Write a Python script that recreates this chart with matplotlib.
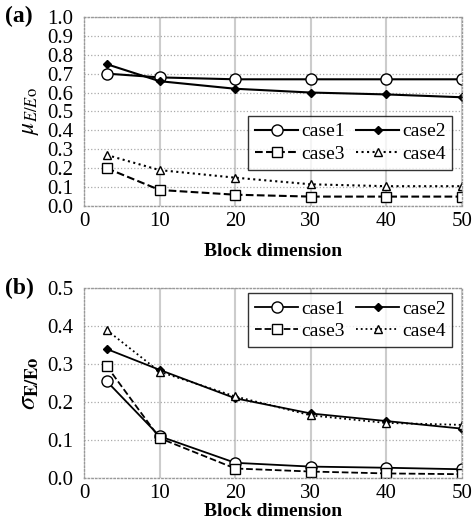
import matplotlib
matplotlib.use("Agg")
import matplotlib.pyplot as plt

plt.rcParams['font.family'] = ['Liberation Serif', 'DejaVu Serif']
plt.rcParams['mathtext.fontset'] = 'stix'

block = [3, 10, 20, 30, 40, 50]

# (a) mean of E/Eo
mu_case1 = [0.70, 0.68, 0.67, 0.67, 0.67, 0.67]
mu_case2 = [0.75, 0.66, 0.62, 0.60, 0.59, 0.575]
mu_case3 = [0.20, 0.085, 0.06, 0.05, 0.05, 0.05]
mu_case4 = [0.27, 0.19, 0.15, 0.115, 0.105, 0.105]

# (b) std of E/Eo
sd_case1 = [0.255, 0.11, 0.04, 0.03, 0.027, 0.023]
sd_case2 = [0.34, 0.285, 0.21, 0.17, 0.15, 0.13]
sd_case3 = [0.295, 0.105, 0.025, 0.017, 0.012, 0.010]
sd_case4 = [0.39, 0.28, 0.215, 0.165, 0.145, 0.14]

labels = ['case1', 'case2', 'case3', 'case4']
styles = [dict(ls='-', marker='o', mfc='white', ms=8),
          dict(ls='-', marker='D', mfc='black', ms=4.5),
          dict(ls='--', marker='s', mfc='white', ms=7),
          dict(ls=':', marker='^', mfc='white', ms=6)]

fig = plt.figure(figsize=(4.72, 5.27), dpi=100)
ax1 = fig.add_axes([0.178, 0.609, 0.801, 0.359])
ax2 = fig.add_axes([0.178, 0.093, 0.801, 0.360])


def style_axes(ax, ymax, ystep, pad):
    ax.set_xlim(0, 50)
    ax.set_ylim(0, ymax)
    ax.set_xticks(range(0, 51, 10))
    n = int(round(ymax / ystep))
    ax.set_yticks([i * ystep for i in range(n + 1)])
    ax.yaxis.set_major_formatter(matplotlib.ticker.FormatStrFormatter('%.1f'))
    ax.tick_params(length=0, labelsize=15, pad=4)
    ax.tick_params(axis='y', pad=8)
    ax.xaxis.grid(True, color='#cccccc', lw=1.5, ls='-')
    ax.yaxis.grid(True, color='#aaaaaa', lw=0.9, ls=':')
    for s in ax.spines.values():
        s.set_color('#999999')
        s.set_linestyle(':')
        s.set_linewidth(1.0)
    ax.set_xlabel('Block dimension', fontsize=14, fontweight='bold', labelpad=pad)


for ys, lab, st in zip([mu_case1, mu_case2, mu_case3, mu_case4], labels, styles):
    ax1.plot(block, ys, color='black', lw=1.5, mec='black', label=lab, **st)
for ys, lab, st in zip([sd_case1, sd_case2, sd_case3, sd_case4], labels, styles):
    ax2.plot(block, ys, color='black', lw=1.3, mec='black', label=lab, **st)

style_axes(ax1, 1.0, 0.1, 9)
style_axes(ax2, 0.5, 0.1, 0)
ax1.set_ylabel(r'$\mu_{E/E\mathrm{o}}$', fontsize=17, labelpad=4)
ax2.set_ylabel(r'$\sigma_{\mathbf{E/Eo}}$', fontsize=19, labelpad=4)

for ax, top in [(ax1, 0.476), (ax2, 0.974)]:
    h, l = ax.get_legend_handles_labels()
    order = [0, 2, 1, 3]
    leg = ax.legend([h[i] for i in order], [l[i] for i in order], ncol=2,
                    loc='upper right', bbox_to_anchor=(0.974, top),
                    fontsize=14, frameon=True, fancybox=False, handlelength=2.2,
                    handletextpad=0.15, columnspacing=0.6, borderpad=0.35,
                    labelspacing=0.25, borderaxespad=0)
    leg.get_frame().set_edgecolor('black')
    leg.get_frame().set_linewidth(1.0)

fig.text(0.01, 0.968, '(a)', fontsize=17, fontweight='bold', va='center')
fig.text(0.01, 0.453, '(b)', fontsize=17, fontweight='bold', va='center')

fig.savefig('out.png', dpi=100)
